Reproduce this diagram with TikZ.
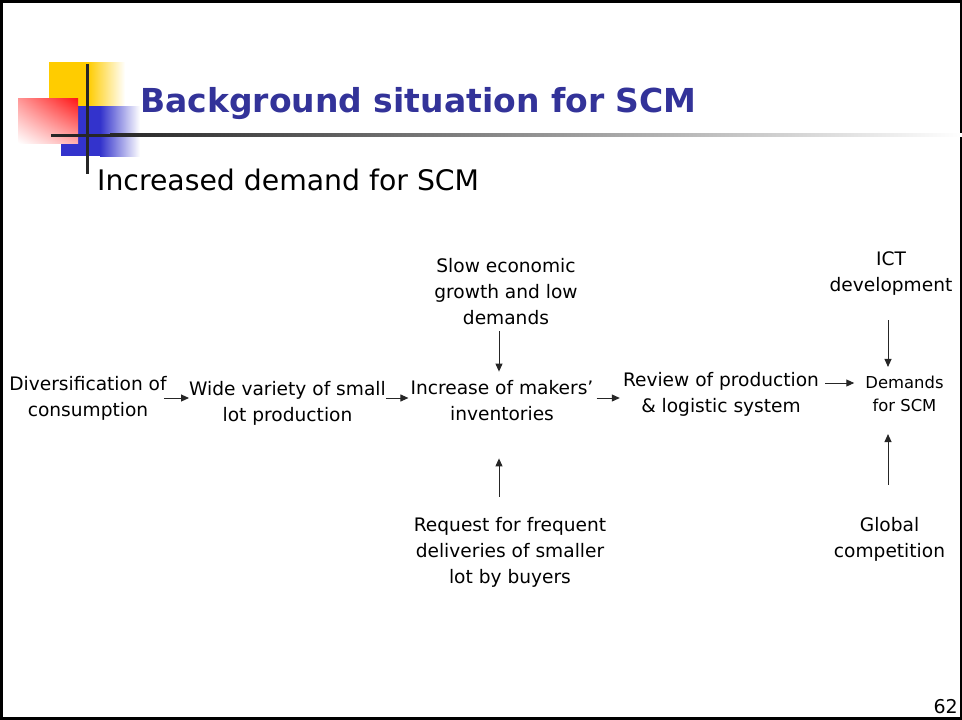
\documentclass[tikz,border=0pt]{standalone}
\usepackage{fontspec}
\setmainfont{DejaVu Sans}
\usepackage{tikz}
\usetikzlibrary{arrows.meta,positioning,shadings}
\definecolor{titleblue}{RGB}{51,51,153}
\definecolor{decoyellow}{RGB}{255,204,0}
\definecolor{decoblue}{RGB}{51,51,204}
\definecolor{decored}{RGB}{255,20,20}

\begin{document}
\begin{tikzpicture}[
    x=1pt, y=-1pt,
    label/.style={align=center, inner sep=0pt, font=\fontsize{18.6}{26}\selectfont},
    smalllabel/.style={align=center, inner sep=0pt, font=\fontsize{16.4}{23}\selectfont},
    arr/.style={-{Triangle[length=8pt,width=7pt]}, line width=1pt, draw=black!85}
]
\useasboundingbox (0,0) rectangle (962,720);

% slide frame
\draw[line width=2.5pt] (1.5,1.5) rectangle (961,718.5);

% corner decoration
\fill[decoyellow] (49,62) rectangle (88,106);
\shade[left color=decoyellow, right color=white] (88,62) rectangle (125,106);
\fill[decoblue] (61,106) rectangle (100,156);
\shade[left color=decoblue, right color=white] (100,106) rectangle (140,156);
\shade[upper right=decored, upper left=decored!45!white,
       lower right=decored!35!white, lower left=white] (18,98) rectangle (78,143);
\fill[black!85] (85.5,64) rectangle (88.5,174);
\fill[black!85] (51,133.5) rectangle (110,136.5);
\shade[left color=black!85, right color=white] (110,133.5) rectangle (962,136.5);

% headings
\node[anchor=base west, inner sep=0pt, text=titleblue,
      font=\fontsize{33}{40}\selectfont\bfseries] (title) at (140,112) {Background situation for SCM};
\node[anchor=base west, inner sep=0pt, font=\fontsize{28.3}{34}\selectfont] (subtitle) at (97,190) {Increased demand for SCM};

% main chain
\node[label] (div) at (88,398) {Diversification of\\consumption};
\node[label] (wide) at (287.5,403) {Wide variety of small\\lot production};
\node[label] (inc) at (502,401) {Increase of makers'\\inventories};
\node[label] (rev) at (721,394) {Review of production\\\& logistic system};
\node[smalllabel] (dem) at (904.5,394) {Demands\\for SCM};

% side causes
\node[label] (slow) at (506,292) {Slow economic\\growth and low\\demands};
\node[label] (req) at (510,552) {Request for frequent\\deliveries of smaller\\lot by buyers};
\node[label] (ict) at (891,274) {ICT\\development};
\node[label] (glob) at (889.5,539) {Global\\competition};

\draw[arr] ([xshift=-3pt]div.east) -- (div.east -| wide.west);
\draw[arr] ([yshift=5pt]wide.east) -- ([xshift=-2pt,yshift=3pt]inc.west);
\draw[arr] ([xshift=3pt,yshift=3pt]inc.east) -- ([xshift=-3pt,yshift=-4pt]rev.west);
\draw[arr] ([xshift=6pt,yshift=11pt]rev.east) -- ([xshift=-11pt,yshift=11pt]dem.west);

\draw[arr] ([xshift=-7pt,yshift=-6pt]slow.south) -- ([xshift=-3pt,yshift=9pt]inc.north);
\draw[arr] ([xshift=-11pt,yshift=20pt]req.north) -- ([xshift=-3pt,yshift=-37pt]inc.south);
\draw[arr] ([xshift=-3pt,yshift=-24pt]ict.south) -- ([xshift=-16.5pt,yshift=9pt]dem.north);
\draw[arr] ([xshift=-1.5pt,yshift=32pt]glob.north) -- ([xshift=-16.5pt,yshift=-22pt]dem.south);

\node[anchor=base east, inner sep=0pt, font=\fontsize{19}{23}\selectfont] (page) at (958,713) {62};
\end{tikzpicture}
\end{document}
